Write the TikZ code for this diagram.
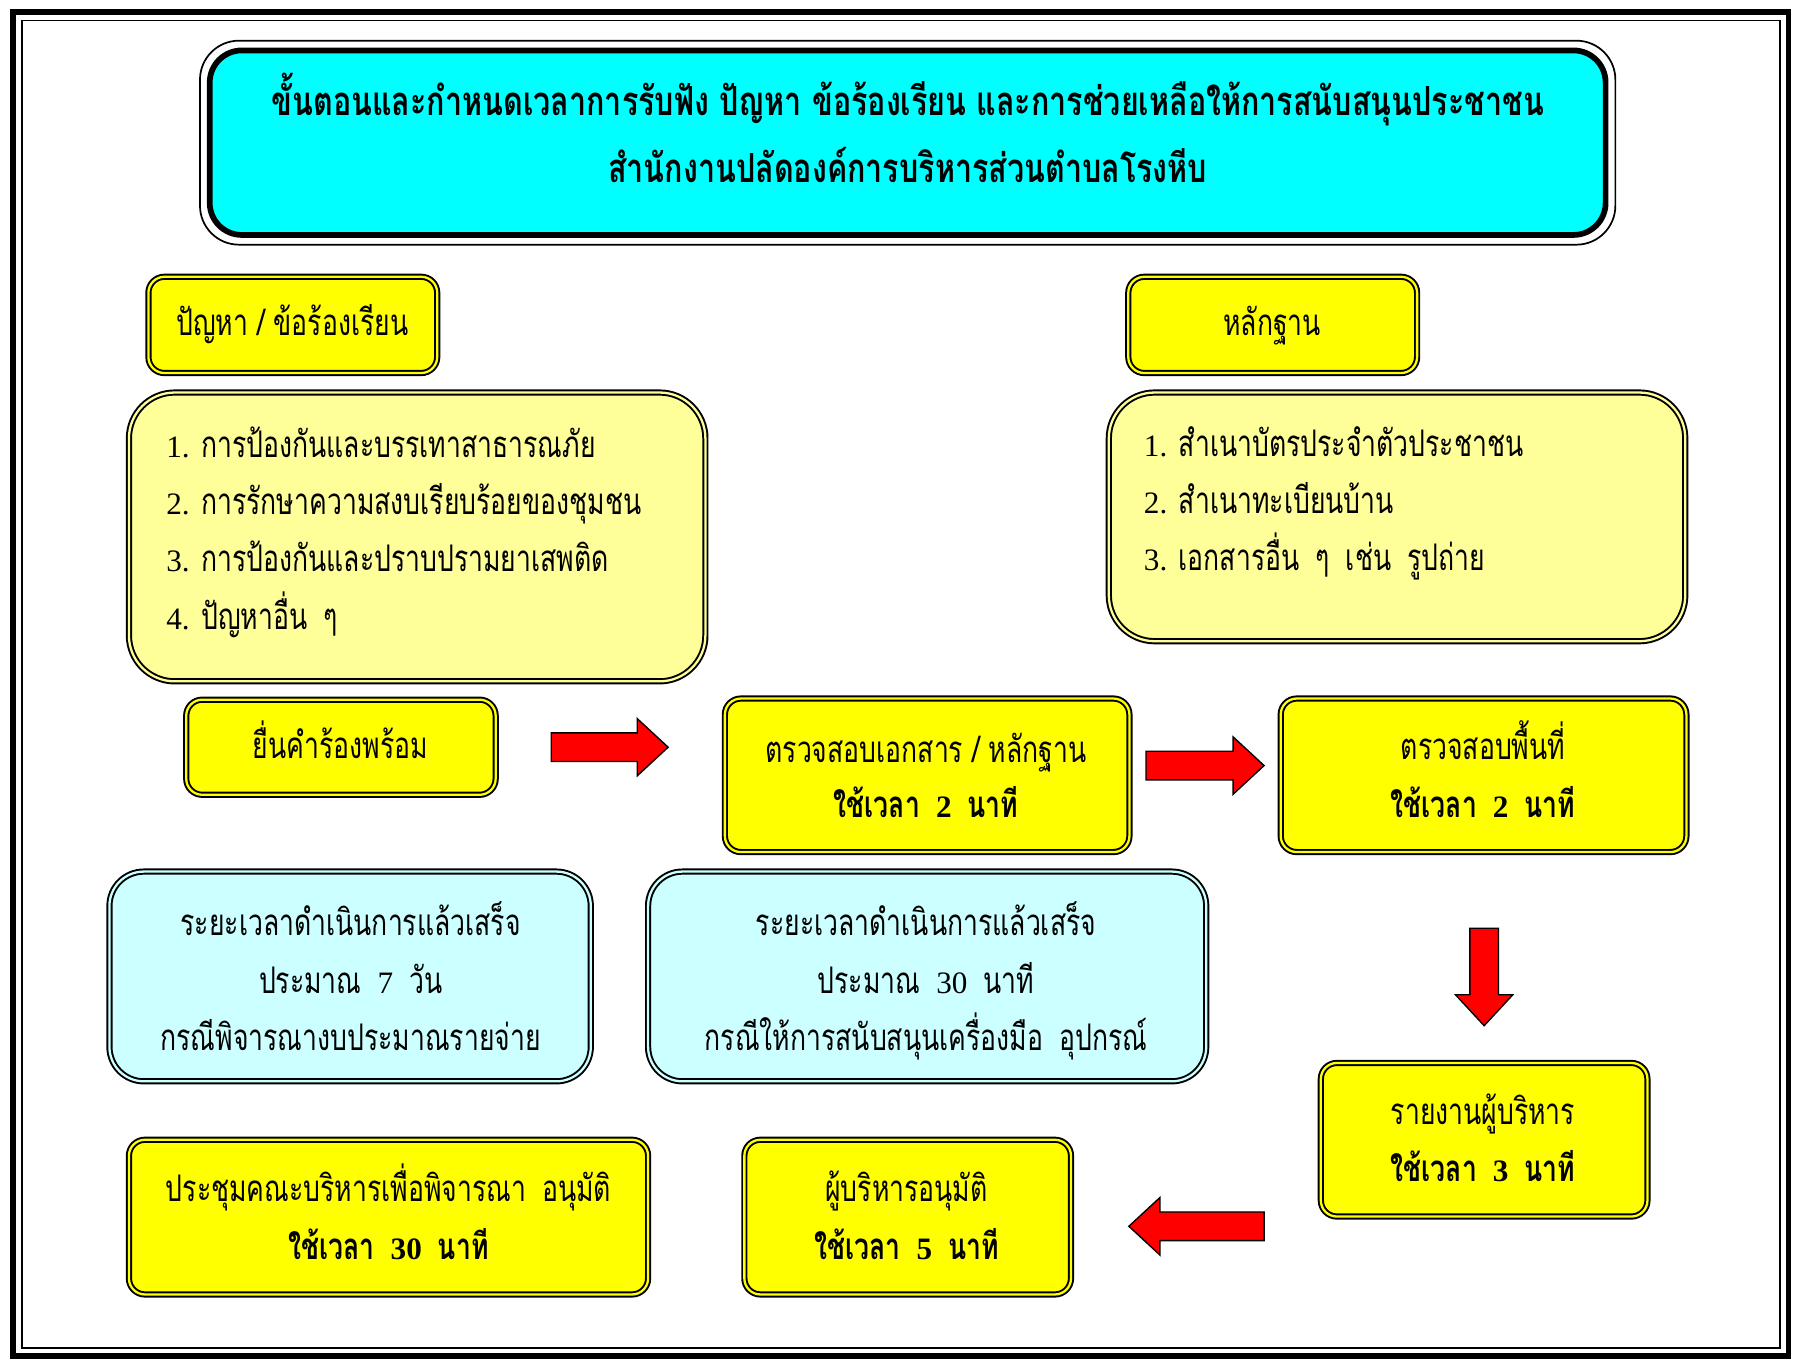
\documentclass[tikz,border=0pt]{standalone}
\usepackage{fontspec}
\newfontfamily\thai[Script=Thai,FakeStretch=0.725]{Loma}
\newfontfamily\thaititle[Script=Thai,FakeStretch=0.76]{Loma}
\newfontfamily\serifnum[Scale=0.85]{Liberation Serif}
\newcommand\nm[1]{{\serifnum #1}}
\newcommand\wsp{\hspace{14pt}}
\definecolor{yel}{HTML}{FFFF00}
\definecolor{lyel}{HTML}{FFFF99}
\definecolor{cyn}{HTML}{00FFFF}
\definecolor{lcyn}{HTML}{CCFFFF}
\definecolor{arred}{HTML}{FF0000}
\tikzset{
  boxbase/.style={draw=black, line width=1.7pt, double distance=2pt, inner sep=0pt},
  ybox/.style={boxbase, fill=yel, double=yel, rounded corners=14pt},
  lbox/.style={boxbase, fill=lyel, double=lyel, rounded corners=40pt},
  cbox/.style={boxbase, fill=lcyn, double=lcyn, rounded corners=30pt},
  linetxt/.style={anchor=base, inner sep=0pt, font=\fontsize{32}{50}\thai},
  boldtxt/.style={linetxt, font=\fontsize{32}{50}\thai\bfseries},
  titletxt/.style={anchor=base, inner sep=0pt, font=\fontsize{35}{58}\thaititle\bfseries},
  listtxt/.style={linetxt, anchor=base west},
  arrowshape/.style={draw=black, line width=1.2pt, fill=arred, line join=miter}
}
\newcommand\blockarrow[4]{%
  \begin{scope}[shift={(#1,#2)},rotate=#4]
    \draw[arrowshape] (0,-12.5) -- ({#3-27},-12.5) -- ({#3-27},-25) -- (#3,0) -- ({#3-27},25) -- ({#3-27},12.5) -- (0,12.5) -- cycle;
  \end{scope}}
\begin{document}
\begin{tikzpicture}[x=1pt,y=-1pt]
\useasboundingbox (0,0) rectangle (1568,1188);
\fill[white] (0,0) rectangle (1568,1188);
% outer frame
\draw[line width=5pt] (11.5,10.5) rectangle (1560.5,1183.5);
\draw[line width=1.5pt] (19,18) rectangle (1553,1176);
% title
\node[draw=black, line width=5pt, fill=cyn, rounded corners=28pt, minimum width=1218pt, minimum height=161pt] (title) at (792,124.5) {};
\draw[line width=1.5pt, rounded corners=34pt] ([shift={(-6,-6)}]title.north west) rectangle ([shift={(6,6)}]title.south east);
\node[titletxt] (t1) at (792,101) {ขั้นตอนและกำหนดเวลาการรับฟัง ปัญหา ข้อร้องเรียน และการช่วยเหลือให้การสนับสนุนประชาชน};
\node[titletxt] (t2) at (792,159) {สำนักงานปลัดองค์การบริหารส่วนตำบลโรงหีบ};
% headers
\node[ybox, minimum width=252pt, minimum height=84pt] (prob) at (255.5,283.5) {};
\node[linetxt] (probt) at (255,293) {ปัญหา / ข้อร้องเรียน};
\node[ybox, minimum width=252pt, minimum height=84pt] (evid) at (1110.5,283.5) {};
\node[linetxt] (evidt) at (1110,293) {หลักฐาน};
% lists
\node[lbox, minimum width=503pt, minimum height=252pt] (plist) at (364,468.5) {};
\node[listtxt] (pl1) at (145,399) {\nm{1.}\hspace{10pt}การป้องกันและบรรเทาสาธารณภัย};
\node[listtxt] (pl2) at (145,449) {\nm{2.}\hspace{10pt}การรักษาความสงบเรียบร้อยของชุมชน};
\node[listtxt] (pl3) at (145,499) {\nm{3.}\hspace{10pt}การป้องกันและปราบปรามยาเสพติด};
\node[listtxt] (pl4) at (145,549) {\nm{4.}\hspace{10pt}ปัญหาอื่น\wsp ๆ};
\node[lbox, minimum width=503pt, minimum height=217pt] (elist) at (1219,451) {};
\node[listtxt] (el1) at (998,398) {\nm{1.}\hspace{10pt}สำเนาบัตรประจำตัวประชาชน};
\node[listtxt] (el2) at (998,448) {\nm{2.}\hspace{10pt}สำเนาทะเบียนบ้าน};
\node[listtxt] (el3) at (998,498) {\nm{3.}\hspace{10pt}เอกสารอื่น\wsp ๆ\wsp เช่น\wsp รูปถ่าย};
% process row
\node[ybox, minimum width=270pt, minimum height=83pt] (submit) at (297.5,652) {};
\node[linetxt] (submitt) at (297,662) {ยื่นคำร้องพร้อม};
\node[ybox, minimum width=353pt, minimum height=134pt] (checkdoc) at (809,676.5) {};
\node[linetxt] (checkdoc1) at (808,665) {ตรวจสอบเอกสาร / หลักฐาน};
\node[boldtxt] (checkdoc2) at (808,713) {ใช้เวลา\wsp\nm{2}\wsp นาที};
\node[ybox, minimum width=354pt, minimum height=134pt] (checksite) at (1294.5,676.5) {};
\node[linetxt] (checksite1) at (1294,663) {ตรวจสอบพื้นที่};
\node[boldtxt] (checksite2) at (1294,713) {ใช้เวลา\wsp\nm{2}\wsp นาที};
% duration boxes
\node[cbox, minimum width=420pt, minimum height=183pt] (dur1) at (305.5,852) {};
\node[linetxt] (dur1a) at (306,816) {ระยะเวลาดำเนินการแล้วเสร็จ};
\node[linetxt] (dur1b) at (306,867) {ประมาณ\wsp\nm{7}\wsp วัน};
\node[linetxt] (dur1c) at (306,917) {กรณีพิจารณางบประมาณรายจ่าย};
\node[cbox, minimum width=487pt, minimum height=183pt] (dur2) at (809,852) {};
\node[linetxt] (dur2a) at (808,816) {ระยะเวลาดำเนินการแล้วเสร็จ};
\node[linetxt] (dur2b) at (808,867) {ประมาณ\wsp\nm{30}\wsp นาที};
\node[linetxt] (dur2c) at (808,917) {กรณีให้การสนับสนุนเครื่องมือ\wsp อุปกรณ์};
% lower row
\node[ybox, minimum width=285pt, minimum height=134pt] (report) at (1295,994.5) {};
\node[linetxt] (report1) at (1294,981) {รายงานผู้บริหาร};
\node[boldtxt] (report2) at (1294,1031) {ใช้เวลา\wsp\nm{3}\wsp นาที};
\node[ybox, minimum width=453pt, minimum height=135pt] (meet) at (339,1062) {};
\node[linetxt] (meet1) at (339,1048) {ประชุมคณะบริหารเพื่อพิจารณา\wsp อนุมัติ};
\node[boldtxt] (meet2) at (339,1099) {ใช้เวลา\wsp\nm{30}\wsp นาที};
\node[ybox, minimum width=285pt, minimum height=135pt] (approve) at (792,1062) {};
\node[linetxt] (approve1) at (791,1048) {ผู้บริหารอนุมัติ};
\node[boldtxt] (approve2) at (791,1099) {ใช้เวลา\wsp\nm{5}\wsp นาที};
% block arrows
\blockarrow{481}{652}{102}{0}
\blockarrow{1000}{668}{103}{0}
\blockarrow{1295}{810}{85}{-90}
\blockarrow{1103}{1070}{118}{180}
\end{tikzpicture}
\end{document}
